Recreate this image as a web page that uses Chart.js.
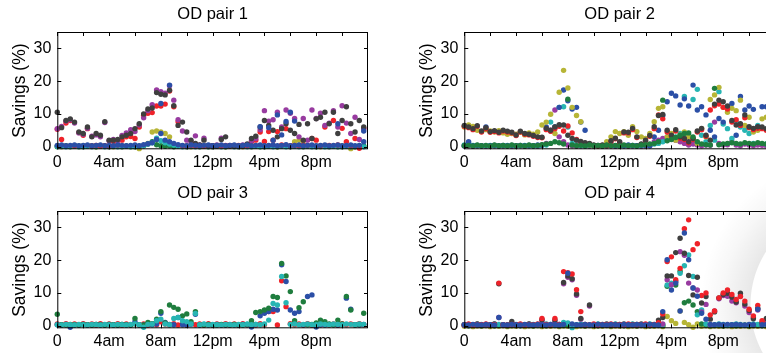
<!DOCTYPE html>
<html>
<head>
<meta charset="utf-8">
<script src="https://cdn.jsdelivr.net/npm/chart.js@4.4.0/dist/chart.umd.min.js"></script>
<style>
html, body { margin: 0; padding: 0; width: 766px; height: 353px; overflow: hidden; background: #fff; }
canvas { position: absolute; }
#shade { position: absolute; left: 0; top: 0; width: 766px; height: 353px;
  background: radial-gradient(circle at 850px 305px, rgba(0,0,0,0) 99px, rgba(0,0,0,0.09) 100px, rgba(0,0,0,0.03) 128px, rgba(0,0,0,0) 150px); }
</style>
</head>
<body>
<div id="shade"></div>
<canvas id="c1" width="383" height="174" style="left:0;top:0"></canvas>
<canvas id="c2" width="383" height="174" style="left:407px;top:0"></canvas>
<canvas id="c3" width="383" height="174" style="left:0;top:179px"></canvas>
<canvas id="c4" width="383" height="174" style="left:407px;top:179px"></canvas>
<script>
// sample times, hours of the day (every 20 min)
var times = [
 0, 0.33, 0.67, 1, 1.33, 1.67, 2, 2.33, 2.67, 3, 3.33, 3.67,
 4, 4.33, 4.67, 5, 5.33, 5.67, 6, 6.33, 6.67, 7, 7.33, 7.67,
 8, 8.33, 8.67, 9, 9.33, 9.67, 10, 10.33, 10.67, 11, 11.33, 11.67,
 12, 12.33, 12.67, 13, 13.33, 13.67, 14, 14.33, 14.67, 15, 15.33, 15.67,
 16, 16.33, 16.67, 17, 17.33, 17.67, 18, 18.33, 18.67, 19, 19.33, 19.67,
 20, 20.33, 20.67, 21, 21.33, 21.67, 22, 22.33, 22.67, 23, 23.33, 23.67];

var xTicks = [0, 2, 4, 6, 8, 10, 12, 14, 16, 18, 20, 22];
var xLabelHours = [0, 4, 8, 12, 16, 20];
var xLabels = ['0', '4am', '8am', '12pm', '4pm', '8pm'];
var yTicks = [0, 10, 20, 30];
var titles = ['OD pair 1', 'OD pair 2', 'OD pair 3', 'OD pair 4'];

var BLUE = '#2b4fa6', GREEN = '#1f7d3e', RED = '#ef2229', CYAN = '#27b5b3',
    PURPLE = '#983ba0', OLIVE = '#b7b536', DARK = '#3f3f3f';

// ---- OD pair 1
var p1Olive = [
 0.2, 0.0, 0.3, 0.1, 0.2, 0.0, 0.3, 0.1, 0.2, 0.0, 0.3, 0.1,
 0.2, 0.0, 0.3, 0.1, 0.2, 0.0, 0.3, -0.6, 0.3, 1.0, 4.5, 4.8,
 4.5, 4.0, 3.0, 0.5, 0.3, 0.1, 0.2, 0.0, 0.3, 0.1, 0.2, 0.0,
 0.3, 0.1, 0.2, 0.0, 0.3, 0.1, 0.2, 0.0, 0.3, 0.1, 0.2, 0.0,
 0.3, 0.1, 0.2, 0.0, 0.3, 0.1, 0.2, 1.5, 2.0, 1.8, 0.3, 0.1,
 0.2, 0.0, 0.3, 0.1, 0.2, 0.0, 0.3, 0.1, -0.6, 0.0, 0.3, 0.1];
var p1Green = [
 0.0, 0.1, 0.2, 0.0, 0.1, 0.2, 0.0, 0.1, 0.2, 0.0, 0.1, 0.2,
 0.0, 0.1, 0.2, 0.0, 0.1, 0.2, 0.0, 0.1, 0.3, 0.8, 1.5, 0.6,
 0.3, 0.1, 0.2, 0.0, 0.1, 0.2, 0.0, 0.1, 0.2, 0.0, 0.1, 0.2,
 0.0, 0.1, 0.2, 0.0, 0.1, 0.2, 0.0, 0.1, 0.2, 0.0, 0.1, 0.2,
 0.0, 0.1, 0.2, 0.0, 0.1, 0.2, 0.0, 0.1, 0.2, 0.0, 0.1, 0.2,
 0.0, 0.1, 0.2, 0.0, 0.1, 0.2, 0.0, 0.1, 0.2, 0.0, 0.1, 0.2];
var p1Cyan = [
 0.1, 0.2, 0.0, 0.1, 0.2, 0.0, 0.1, 0.2, 0.0, 0.1, 0.2, 0.0,
 0.1, 0.2, 0.0, 0.1, 0.2, 0.0, 0.1, 0.2, 0.3, 0.8, 1.2, 2.6,
 1.8, 1.2, 0.8, 0.5, 0.2, 0.0, 0.1, 0.2, 0.0, 0.1, 0.2, 0.0,
 0.1, 0.2, 0.0, 0.1, 0.2, 0.0, 0.1, 0.2, 0.0, 0.1, 0.2, 0.0,
 0.1, 0.2, 0.0, 0.1, 0.2, 0.0, 0.1, 0.2, 0.0, 0.1, 0.2, 0.0,
 0.1, 0.2, 0.0, 0.1, 0.2, 0.0, 0.1, 0.2, 0.0, 0.1, 0.2, 0.0];
var p1Red = [
 5.3, 2.2, 7.2, 8.0, 0.3, 4.3, 3.5, 5.5, 0.2, 0.4, 0.2, 0.3,
 0.2, 1.6, 0.5, 2.0, 3.0, 3.1, 2.5, 6.0, 9.6, 10.2, 10.4, 12.4,
 12.4, 13.0, 17.0, 12.2, 7.6, 0.3, 0.2, 0.4, 0.2, 0.3, 0.2, 0.3,
 0.2, 0.3, 0.2, 0.4, 0.2, 0.3, 0.4, 0.2, 0.3, 1.5, 2.0, 4.5,
 1.6, 4.6, 2.0, 4.6, 0.5, 5.5, 0.3, 0.4, 0.3, 0.5, 0.4, 2.5,
 2.0, 0.3, 6.0, 0.4, 8.0, 0.5, 5.6, 1.5, 0.3, 2.5, -0.5, 5.6];
var p1Purple = [
 5.5, 6.2, 7.8, 8.2, 7.2, 4.2, 3.8, 5.6, 3.2, 3.6, 3.0, 7.4,
 1.8, 2.2, 1.8, 3.4, 4.2, 5.2, 4.6, 6.6, 8.8, 11.0, 12.8, 17.3,
 16.8, 16.3, 18.6, 14.2, 8.2, 4.8, 2.0, 1.5, 3.3, 0.5, 2.6, 0.3,
 0.3, 0.5, 2.6, 0.3, 0.4, 0.3, 0.3, 0.5, 0.6, 1.8, 2.5, 5.2,
 11.0, 7.8, 8.2, 10.5, 6.0, 11.2, 10.2, 8.6, 3.0, 8.6, 2.0, 11.2,
 8.6, 10.2, 6.5, 7.2, 11.0, 6.0, 12.5, 7.2, 4.0, 9.0, 2.2, 5.5];
var p1Dark = [
 10.5, 5.8, 8.0, 8.5, 7.5, 4.5, 4.0, 6.0, 3.0, 4.0, 3.5, 7.6,
 2.0, 2.0, 2.2, 3.0, 3.5, 4.0, 5.5, 7.0, 10.0, 11.5, 11.8, 16.5,
 16.0, 15.8, 17.2, 12.5, 6.5, 7.5, 4.5, 2.0, 1.0, 0.5, 2.0, 0.3,
 0.3, 0.2, 2.2, 3.0, 0.3, 0.2, 0.2, 0.3, 0.8, 2.5, 3.2, 6.0,
 8.0, 6.5, 5.0, 3.0, 5.5, 7.0, 5.0, 4.0, 6.8, 2.0, 7.0, 2.5,
 8.5, 9.0, 10.5, 7.0, 10.5, 4.0, 8.0, 12.2, 7.0, 4.5, 8.0, 6.0];
var p1BlueHigh = [
 null, null, null, null, null, null, null, null, null, null, null, null,
 null, null, null, null, null, null, null, null, null, null, null, null,
 13.2, null, 18.8, null, null, null, null, null, null, null, null, null,
 null, null, null, null, null, null, null, null, null, null, null, 6.1,
 null, 5.8, 2.0, 9.7, 3.6, 7.7, 10.5, 7.8, null, null, null, null,
 null, null, null, null, null, 7.0, null, null, null, null, null, 4.8];
var p1Blue = [
 0.4, 0.5, 0.3, 0.4, 0.5, 0.3, 0.4, 0.5, 0.3, 0.4, 0.5, 0.3,
 0.4, 0.3, 0.5, 0.4, 0.3, 0.4, 0.5, 0.3, 0.6, 0.9, 1.2, 2.2,
 4.0, 2.0, 1.5, 1.0, 0.6, 0.4, 0.3, 0.5, 0.4, 0.3, 0.4, 0.5,
 0.3, 0.4, 0.5, 0.3, 0.4, 0.5, 0.3, 0.4, 0.5, 0.3, 0.4, 0.5,
 0.3, 0.4, 0.5, 0.3, 0.4, 0.6, 0.3, 0.4, 0.5, 0.3, 0.4, 0.5,
 0.3, 0.4, 0.5, 0.3, 0.4, 0.5, 0.3, 0.4, 0.5, 0.3, 0.4, 1.5];

// ---- OD pair 2
var p2Purple = [
 0.2, 0.3, 0.1, 0.2, 0.3, 0.1, 0.2, 0.3, 0.1, 0.2, 0.3, 0.1,
 0.2, 0.3, 0.1, 0.2, 0.3, 0.1, 0.5, 1.0, 5.0, 11.2, 3.0, 1.5,
 0.5, 0.3, 0.1, 0.2, 0.3, 0.1, 0.2, 0.3, 0.1, 0.2, 0.3, 0.1,
 0.2, 0.3, 0.1, 0.2, 0.3, 0.1, 0.2, 0.3, 1.5, 2.0, 2.5, 3.0,
 3.5, 2.0, 1.5, 1.0, 0.5, 0.8, 0.5, 0.3, 0.5, 0.4, 7.5, 1.0,
 0.5, 0.6, 1.5, 0.5, 0.3, 0.8, 0.5, 0.3, 0.5, 0.4, 0.3, 0.5];
var p2Cyan = [
 0.5, 1.2, 0.4, 0.3, 0.2, 0.3, 0.4, 0.3, 0.2, 0.3, 0.4, 0.3,
 0.2, 0.3, 0.4, 0.3, 0.2, 0.3, 0.4, 0.5, 7.5, 6.0, 12.0, 12.2,
 6.0, 1.0, 0.5, 0.3, 0.2, 0.3, 0.4, 0.3, 0.2, 0.3, 0.4, 0.3,
 0.2, 0.3, 0.4, 0.3, 0.2, 0.3, 0.4, 0.5, 0.8, 1.0, 1.5, 2.0,
 2.5, 3.0, 4.0, 15.3, 3.5, 14.4, 17.5, 3.5, 1.5, 6.5, 2.0, 16.8,
 6.9, 5.5, 2.5, 7.5, 6.0, 5.0, 4.0, 1.0, 6.5, 5.8, 0.8, 0.5];
var p2Blue = [
 0.3, 1.5, 0.3, 0.4, 0.3, 6.0, 0.3, 0.4, 0.3, 0.4, 0.3, 0.4,
 0.3, 0.4, 0.3, 0.4, 0.3, 0.5, 0.4, 6.0, 4.8, 6.0, 12.0, 17.3,
 14.0, 11.5, 12.0, 7.5, 5.0, 0.5, 0.3, 0.4, 0.3, 0.4, 0.5, 0.3,
 0.4, 0.3, 0.5, 0.4, 0.3, 0.5, 0.4, 0.3, 3.0, 5.0, 9.5, 13.7,
 16.3, 15.5, 12.7, 14.6, 12.4, 18.8, 11.2, 12.2, 9.7, 5.0, 3.0, 8.6,
 7.5, 12.0, 13.2, 3.5, 15.3, 11.2, 12.4, 11.4, 6.0, 12.2, 12.2, 6.5];
var p2Olive = [
 6.0, 6.6, 6.2, 5.0, 4.6, 5.2, 4.8, 4.5, 4.9, 4.2, 3.8, 4.0,
 3.8, 4.4, 3.6, 4.2, 3.8, 4.5, 6.6, 7.5, 9.9, 4.0, 16.6, 23.3,
 17.9, 12.0, 9.5, 7.6, 1.0, 0.5, 0.3, 0.2, 0.3, 1.5, 3.0, 4.6,
 4.0, 4.6, 3.5, 6.1, 4.6, 3.0, 2.5, 4.0, 7.6, 11.7, 12.2, 3.0,
 4.0, 2.0, 3.5, 4.5, 3.0, 2.5, 1.0, 5.5, 3.0, 14.4, 15.8, 18.1,
 12.0, 10.5, 11.7, 11.0, 14.2, 6.5, 9.0, 4.5, 5.0, 8.5, 9.0, 4.0];
var p2Red = [
 6.2, 5.8, 5.2, 6.2, 4.5, 5.5, 4.4, 4.6, 4.2, 4.8, 4.5, 4.2,
 3.4, 4.5, 3.8, 3.6, 3.2, 2.8, 2.7, 5.2, 4.7, 5.5, 6.2, 4.8,
 6.3, 4.2, 2.2, 1.4, 1.0, 0.8, 0.4, 0.3, 0.4, 0.3, 1.5, 2.4,
 1.2, 4.2, 4.2, 5.2, 2.8, 0.7, 1.8, 3.2, 5.5, 9.7, 8.5, 4.5,
 3.0, 4.8, 2.6, 2.2, 1.2, 2.2, 4.5, 5.2, 3.2, 11.2, 12.5, 13.0,
 12.0, 11.5, 7.5, 8.2, 6.5, 8.8, 5.8, 5.2, 5.6, 5.5, 5.0, 4.6];
var p2Dark = [
 6.5, 6.0, 5.5, 6.4, 4.8, 5.8, 4.6, 4.9, 4.4, 5.0, 4.7, 4.4,
 3.6, 4.7, 4.0, 3.8, 3.4, 3.0, 2.9, 5.6, 5.0, 6.0, 6.7, 6.6,
 3.5, 2.5, 2.0, 1.6, 1.2, 1.0, 0.5, 0.3, 0.5, 0.4, 1.8, 2.6,
 1.5, 4.5, 4.4, 5.6, 3.0, 0.8, 2.0, 3.4, 6.1, 9.5, 9.8, 5.0,
 3.5, 5.2, 3.0, 2.5, 1.5, 2.5, 4.8, 5.6, 3.5, 2.0, 13.0, 14.2,
 13.7, 12.4, 8.0, 6.6, 7.0, 9.7, 6.1, 5.6, 6.1, 6.0, 5.5, 5.0];
var p2Green = [
 0.3, 0.4, 0.2, 0.5, 0.3, 0.4, 0.2, 0.5, 0.3, 0.4, 0.2, 0.5,
 0.3, 0.4, 0.2, 0.5, 0.3, 0.4, 0.6, 0.8, 1.0, 1.5, 1.2, 0.8,
 14.5, 0.5, 0.3, 0.4, 0.2, 0.5, 0.3, 0.4, 0.2, 0.5, 0.3, 0.4,
 0.2, 0.5, 0.3, 0.4, 0.2, 0.5, 0.6, 0.8, 1.0, 1.5, 14.2, 1.8,
 2.2, 2.8, 3.5, 4.0, 4.2, 3.0, 1.5, 0.8, 0.6, 0.5, 17.8, 0.6,
 0.8, 1.0, 1.2, 1.0, 0.8, 1.2, 1.0, 0.8, 1.2, 1.0, 0.8, 1.0];

// ---- OD pair 3
var p3Red = [
 0.5, 0.2, 0.6, 0.1, 0.5, 0.3, 0.6, 0.2, 0.5, 0.1, 0.6, 0.3,
 0.5, 0.2, 0.6, 0.1, 0.5, 0.3, 0.6, 0.2, 0.5, 0.1, 0.6, 0.3,
 1.2, 0.5, 0.3, 0.6, 0.2, 0.5, 0.1, 0.6, 0.3, 0.5, 0.2, 0.6,
 0.1, 0.5, 0.3, 0.6, 0.2, 0.5, 0.1, 0.6, 0.3, 0.5, 0.2, 0.6,
 0.3, 4.3, 4.3, 0.2, 13.7, 5.8, 0.6, 0.3, 0.5, 0.2, 0.6, 0.1,
 0.5, 0.3, 0.6, 0.2, 0.5, 0.1, 0.6, 0.3, 0.5, 0.2, 0.6, 0.3];
var p3Blue = [
 0.3, 0.2, 0.4, -0.5, 0.3, 0.2, 0.4, 0.3, 0.2, 0.4, 0.3, 0.2,
 0.4, 0.3, 0.2, 0.4, 0.3, 0.2, 1.2, 0.3, 0.2, 0.4, 0.3, 0.5,
 3.8, 1.0, 0.4, 0.3, 2.5, 0.3, 0.2, 0.4, 3.5, 0.2, 0.4, 0.3,
 0.2, 0.4, 0.3, 0.2, 0.4, 0.3, 0.2, 0.4, 0.3, -0.4, 0.4, 3.0,
 3.8, 4.3, 5.0, 4.8, 18.6, 13.5, 4.8, 3.8, 4.3, 0.3, 8.9, 9.4,
 -0.4, 0.3, 0.2, 0.4, 0.3, 0.2, 0.4, 8.4, 5.0, 0.3, 0.2, 0.4];
var p3Green = [
 3.5, 0.3, 0.2, 0.4, 0.3, 0.2, 0.4, 0.3, 0.2, 0.4, 0.3, 0.2,
 0.4, 0.3, 0.2, 0.4, 0.3, 0.2, 2.2, 0.3, 0.2, 1.0, 0.6, 2.0,
 4.3, 0.8, 6.3, 5.6, 5.0, 3.0, 3.6, 1.2, 4.3, 0.3, 0.2, 0.4,
 0.3, 0.2, 0.4, 0.3, 0.2, 0.4, 0.3, 0.2, 0.4, 1.5, 4.0, 4.3,
 4.8, 5.3, 8.9, 8.6, 19.0, 15.2, 10.4, 1.5, 5.5, 7.3, 0.3, 0.4,
 0.8, 1.7, 1.2, 0.5, 0.3, 1.7, 0.5, 8.9, 4.8, 0.3, 0.4, 3.8];
var p3Cyan = [
 0.3, 0.2, 0.4, 0.3, 0.2, 0.4, 0.3, 0.2, 0.4, 0.3, 0.2, 0.4,
 0.3, 0.2, 0.4, 0.3, 0.2, 0.4, 0.5, 0.3, -0.5, 0.4, 0.5, 1.5,
 2.0, 0.5, 0.3, 2.2, 2.5, 1.5, 1.2, 0.5, 3.7, 0.3, 0.5, 0.2,
 0.4, 0.3, 0.2, 0.4, 0.3, 0.2, 0.4, 0.3, 0.5, 0.3, 0.4, 0.3,
 0.5, 1.7, 6.8, 6.3, 15.0, 7.0, 0.4, 0.5, 0.3, 0.4, 0.5, 0.3,
 0.3, 0.5, 0.4, 0.3, 0.5, 0.4, 0.3, 0.5, 0.4, 0.3, 0.5, 0.4];

// ---- OD pair 4
var p4Olive = [
 -0.2, 0.0, -0.3, -0.1, -0.2, 0.0, -0.3, -0.1, -0.2, 0.0, -0.3, -0.1,
 -0.2, 0.0, -0.3, -0.1, -0.2, 0.0, -0.3, -0.1, -0.2, 0.0, -0.3, -0.1,
 -0.2, 0.0, -0.3, -0.1, -0.2, 0.0, -0.3, -0.1, -0.2, 0.0, -0.3, -0.1,
 -0.2, 0.0, -0.3, -0.1, -0.2, 0.0, -0.3, -0.1, -0.2, 0.0, -0.3, 2.8,
 1.5, 0.7, 4.5, 1.0, 0.3, -0.5, 0.5, -0.2, 0.0, -0.3, -0.1, -0.2,
 -0.2, 0.0, -0.3, -0.1, -0.2, 0.0, -0.3, -0.1, -0.2, 0.0, -0.3, -0.1];
var p4Green = [
 0.2, 0.0, 0.1, 0.2, 0.0, 0.1, 0.2, 0.0, 0.1, 0.2, 0.0, 0.1,
 0.2, 0.0, 0.1, 0.2, 0.0, 0.1, 0.2, 0.0, 0.1, 0.2, 0.0, 0.1,
 0.2, 0.0, 0.1, 0.2, 0.0, 0.1, 0.2, 0.0, 0.1, 0.2, 0.0, 0.1,
 0.2, 0.0, 0.1, 0.2, 0.0, 0.1, 0.2, 0.0, 0.1, 0.2, 0.0, 12.0,
 12.8, 12.4, 16.6, 7.0, 7.5, 6.3, 4.3, 0.5, 0.2, 0.0, 0.1, 0.2,
 0.0, 0.1, 0.2, 0.0, 0.1, 0.2, 0.0, 0.1, 0.2, 0.0, 0.1, 0.2];
var p4Cyan = [
 0.4, 0.1, 0.3, 0.5, 0.4, 0.1, 0.3, 0.5, 0.4, 0.1, 0.3, 0.5,
 0.4, 0.1, 0.3, 0.5, 0.4, 0.1, 0.3, 0.5, 0.4, 0.1, 0.3, 1.0,
 0.8, -0.6, 0.3, 0.5, 0.4, 0.1, 0.3, 0.5, 0.4, 0.1, 0.3, 0.5,
 0.4, 0.1, 0.3, 0.5, 0.4, 0.1, 0.3, 0.5, 0.4, 0.1, 0.3, 12.4,
 13.0, 13.5, 16.0, 18.3, 21.6, 15.0, 3.3, 4.8, 0.5, 0.1, 0.3, 0.5,
 0.4, 0.1, 0.3, 0.5, 0.4, 0.1, 0.3, 0.5, 0.4, 0.1, 0.3, 0.5];
var p4Purple = [
 0.1, 0.3, 0.2, 0.1, 0.3, 0.2, 0.1, 0.3, 2.5, 0.2, 0.1, 0.3,
 0.2, 0.1, 0.3, 0.2, 0.1, 0.3, 1.5, 0.1, 0.3, 1.2, 0.1, 12.8,
 14.8, 14.0, 9.3, 2.0, 0.1, 6.0, 0.2, 0.1, 0.3, 0.2, 0.1, 0.3,
 0.2, 0.1, 0.3, 0.2, 0.1, 0.3, 0.2, 0.1, 0.3, 0.2, 0.5, 14.0,
 12.5, 13.5, 22.6, 21.5, 13.0, 11.5, 10.9, 4.2, 6.5, 0.3, 4.5, 8.2,
 9.2, 9.0, 7.5, 7.0, 9.0, 6.0, 4.0, 2.5, 4.8, 0.5, 1.8, 0.3];
var p4Dark = [
 0.2, 0.4, 0.3, 0.5, 0.2, 0.4, 0.3, 0.5, 12.8, 0.3, 0.2, 1.3,
 0.2, 0.4, 0.3, 0.5, 0.2, 0.4, 1.8, 0.3, 0.2, 1.7, 0.4, 13.2,
 15.2, 14.3, 9.7, 2.2, 0.3, 6.3, 0.2, 0.4, 0.3, 0.5, 0.2, 0.4,
 0.3, 0.5, 0.2, 0.4, 0.3, 0.5, 0.2, 0.4, 0.3, 1.7, 2.5, 15.2,
 15.2, 22.3, 26.7, 22.1, 15.3, 9.4, 14.8, 6.9, 8.9, 2.0, 4.2, 8.5,
 9.5, 9.9, 8.7, 7.2, 9.9, 6.6, 4.6, 2.1, 5.3, 1.0, 2.2, 0.8];
var p4Red = [
 0.3, 0.5, 0.2, 0.4, 0.3, 0.5, 0.2, 0.4, 13.0, 0.3, 0.2, 0.4,
 0.3, 0.5, 0.2, 0.4, 0.3, 0.5, 2.2, 0.4, 0.3, 2.2, 0.4, 16.5,
 16.2, 15.8, 11.0, 4.3, 0.4, 0.3, 0.5, 0.2, 0.4, 0.3, 0.5, 0.2,
 0.4, 0.3, 0.5, 0.2, 0.4, 0.3, 0.5, 0.2, 0.4, 0.9, 3.6, 19.6,
 21.0, 14.0, 17.5, 29.6, 32.3, 23.2, 25.0, 9.2, 10.0, 3.3, 4.5, 8.5,
 10.0, 10.9, 9.5, 8.0, 8.9, 7.5, 5.0, 3.0, 6.2, 1.5, 0.5, 0.4];
var p4Blue = [
 0.3, 0.2, 0.4, 0.3, 0.2, 0.4, 0.3, 0.2, 2.5, 0.3, 0.2, 0.4,
 0.3, 0.2, 0.4, 0.3, 0.2, 0.4, 0.3, 0.2, 0.4, 0.3, 0.2, 0.4,
 16.0, 0.5, 0.3, 0.2, 0.4, 0.3, 0.2, 0.4, 0.3, 0.2, 0.4, 0.3,
 0.2, 0.4, 0.3, 0.2, 0.4, 0.3, 0.2, 0.4, 0.3, 0.2, 4.3, 20.1,
 10.9, 13.0, 4.5, 28.3, 20.1, 11.5, 9.0, 3.8, 2.0, 0.4, 0.3, 0.4,
 0.3, 0.4, 0.3, 0.4, 0.3, 0.2, 0.4, 0.3, 5.0, 0.3, 0.4, 0.3];

var FONT = 'Liberation Sans, Arial, Helvetica, sans-serif';

// box round the axes with inward ticks, like the original figure
var boxPlugin = {
	id: 'box',
	afterDatasetsDraw: function(chart) {
		var ctx = chart.ctx, a = chart.chartArea;
		var x = chart.scales.x, y = chart.scales.y;
		ctx.save();
		ctx.strokeStyle = '#000';
		ctx.lineWidth = 1;
		ctx.strokeRect(a.left + 0.5, a.top + 0.5, a.right - a.left - 1, a.bottom - a.top - 1);
		ctx.beginPath();
		xTicks.forEach(function(v) {
			var px = Math.round(x.getPixelForValue(v)) + 0.5;
			ctx.moveTo(px, a.top); ctx.lineTo(px, a.top + 4);
			ctx.moveTo(px, a.bottom); ctx.lineTo(px, a.bottom - 4);
		});
		yTicks.forEach(function(v) {
			var py = Math.round(y.getPixelForValue(v)) + 0.5;
			ctx.moveTo(a.left, py); ctx.lineTo(a.left + 4, py);
			ctx.moveTo(a.right, py); ctx.lineTo(a.right - 4, py);
		});
		ctx.stroke();
		ctx.restore();
	}
};

// series are listed bottom layer first; chart.js paints dataset 0 last
function makePanel(id, title, series) {
	var datasets = [];
	for (var s = 0; s < series.length; s++) {
		var vals = series[s][0];
		var pts = [];
		for (var i = 0; i < times.length; i++) {
			if (vals[i] !== null) pts.push({x: times[i], y: vals[i]});
		}
		datasets.push({
			data: pts,
			backgroundColor: series[s][1],
			borderWidth: 0,
			pointRadius: 2.7,
			pointHoverRadius: 2.7,
			clip: false
		});
	}
	datasets.reverse();
	new Chart(document.getElementById(id), {
		type: 'scatter',
		data: { datasets: datasets },
		options: {
			responsive: false,
			animation: false,
			events: [],
			layout: { padding: { left: 0, right: 15, top: 0, bottom: 0 } },
			plugins: {
				legend: { display: false },
				tooltip: { enabled: false },
				title: {
					display: true, text: title, fullSize: false, color: '#000',
					font: { family: FONT, size: 16.5, weight: 'normal' },
					padding: { top: 5, bottom: 7.2 }
				}
			},
			scales: {
				x: {
					type: 'linear', min: 0, max: 24,
					afterBuildTicks: function(sc) { sc.ticks = xTicks.map(function(v) { return {value: v}; }); },
					afterFit: function(sc) { sc.height = 174 - 149.3; },
					grid: { display: false, drawTicks: false },
					border: { display: false },
					ticks: {
						autoSkip: false, maxRotation: 0, padding: 4, color: '#000',
						font: { family: FONT, size: 16 },
						callback: function(v) {
							var k = xLabelHours.indexOf(v);
							return k < 0 ? '' : xLabels[k];
						}
					}
				},
				y: {
					min: -0.8, max: 35,
					afterBuildTicks: function(sc) { sc.ticks = yTicks.map(function(v) { return {value: v}; }); },
					afterFit: function(sc) { sc.width = 57.3; },
					grid: { display: false, drawTicks: false },
					border: { display: false },
					ticks: { padding: 6, color: '#000', font: { family: FONT, size: 16 } },
					title: {
						display: true, text: 'Savings (%)', color: '#000',
						font: { family: FONT, size: 17.5 },
						padding: { top: 10, bottom: 0 }
					}
				}
			}
		},
		plugins: [boxPlugin]
	});
}

makePanel('c1', titles[0], [
	[p1Olive, OLIVE], [p1Green, GREEN], [p1Cyan, CYAN], [p1Red, RED],
	[p1Purple, PURPLE], [p1Dark, DARK], [p1BlueHigh, BLUE], [p1Blue, BLUE]
]);
makePanel('c2', titles[1], [
	[p2Purple, PURPLE], [p2Cyan, CYAN], [p2Blue, BLUE], [p2Olive, OLIVE],
	[p2Red, RED], [p2Dark, DARK], [p2Green, GREEN]
]);
makePanel('c3', titles[2], [
	[p3Red, RED], [p3Blue, BLUE], [p3Green, GREEN], [p3Cyan, CYAN]
]);
makePanel('c4', titles[3], [
	[p4Olive, OLIVE], [p4Green, GREEN], [p4Cyan, CYAN], [p4Purple, PURPLE],
	[p4Dark, DARK], [p4Red, RED], [p4Blue, BLUE]
]);
</script>
</body>
</html>
